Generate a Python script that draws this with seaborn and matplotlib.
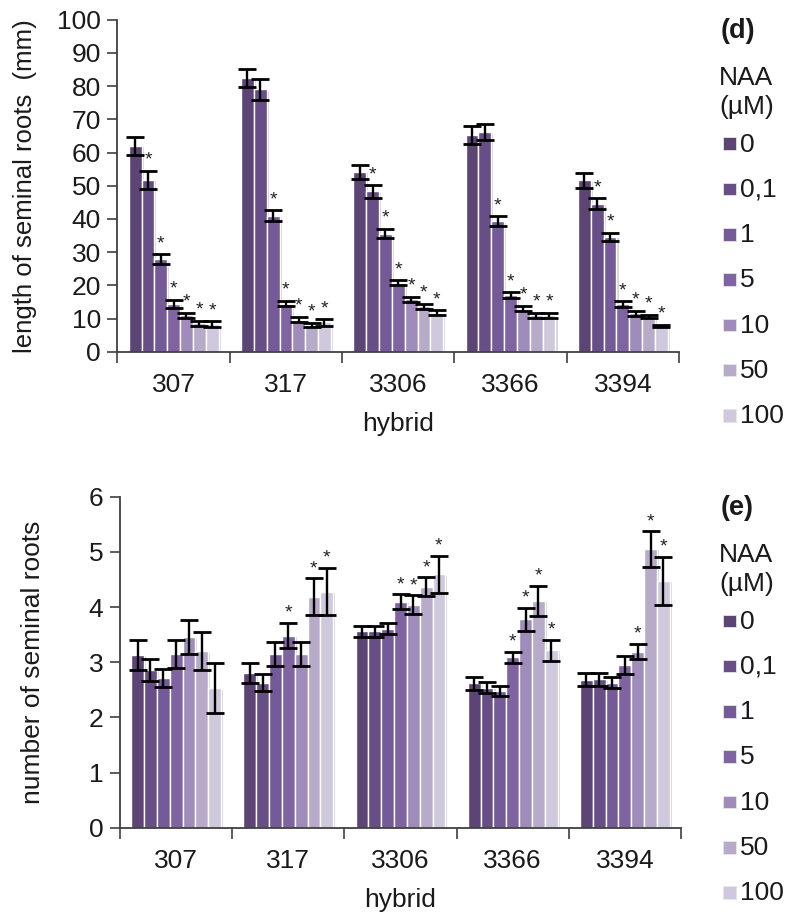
import numpy as np
import pandas as pd
import matplotlib
matplotlib.use("Agg")
import matplotlib.pyplot as plt
import matplotlib.patheffects as pe
from matplotlib.patches import Rectangle
import seaborn as sns

hybrids = ["307", "317", "3306", "3366", "3394"]
naa_levels = ["0", "0,1", "1", "5", "10", "50", "100"]
colors = ["#5c4474", "#684e86", "#745a96", "#8064a2", "#a08cba", "#b8abca", "#d0c8dc"]

# length of seminal roots (mm): rows = hybrids, cols = NAA levels
length_mean = [
    [62.0, 51.8, 27.8, 14.5, 11.0, 8.5, 8.3],
    [82.5, 79.0, 41.0, 14.5, 9.7, 8.0, 8.8],
    [54.2, 48.3, 35.6, 20.8, 15.8, 13.7, 11.8],
    [65.3, 66.3, 39.3, 17.0, 13.0, 11.0, 11.0],
    [51.6, 44.6, 34.6, 14.3, 11.6, 10.7, 7.8],
]
length_err = [
    [2.7, 2.7, 1.5, 1.2, 0.8, 0.9, 0.8],
    [2.6, 3.3, 1.6, 0.8, 0.9, 0.7, 1.0],
    [2.1, 1.9, 1.4, 0.8, 0.8, 0.7, 0.7],
    [2.6, 2.4, 1.5, 0.9, 0.8, 0.8, 0.8],
    [2.2, 1.6, 1.3, 0.9, 0.7, 0.5, 0.3],
]
length_sig = [
    [0, 1, 1, 1, 1, 1, 1],
    [0, 0, 1, 1, 1, 1, 1],
    [0, 1, 1, 1, 1, 1, 1],
    [0, 0, 1, 1, 1, 1, 1],
    [0, 1, 1, 1, 1, 1, 1],
]

# number of seminal roots
number_mean = [
    [3.13, 2.86, 2.71, 3.15, 3.46, 3.20, 2.53],
    [2.81, 2.63, 3.15, 3.48, 3.15, 4.19, 4.28],
    [3.56, 3.56, 3.61, 4.10, 4.04, 4.37, 4.59],
    [2.62, 2.54, 2.47, 3.09, 3.78, 4.11, 3.22],
    [2.68, 2.69, 2.63, 2.95, 3.19, 5.05, 4.47],
]
number_err = [
    [0.28, 0.20, 0.16, 0.25, 0.31, 0.35, 0.45],
    [0.18, 0.15, 0.22, 0.23, 0.21, 0.33, 0.43],
    [0.10, 0.10, 0.10, 0.13, 0.17, 0.17, 0.34],
    [0.12, 0.10, 0.09, 0.10, 0.21, 0.28, 0.19],
    [0.12, 0.12, 0.10, 0.17, 0.14, 0.32, 0.44],
]
number_sig = [
    [0, 0, 0, 0, 0, 0, 0],
    [0, 0, 0, 1, 0, 1, 1],
    [0, 0, 0, 1, 1, 1, 1],
    [0, 0, 0, 1, 1, 1, 1],
    [0, 0, 0, 0, 1, 1, 1],
]

sns.set_theme(style="white")
plt.rcParams["font.family"] = ["Liberation Sans", "DejaVu Sans"]

W, H = 789, 913
FS = 19
TXT = "#1a1a1a"
fig = plt.figure(figsize=(W / 100, H / 100), dpi=100)


def px_axes(left, top, right, bottom):
    return fig.add_axes([left / W, 1 - bottom / H, (right - left) / W, (bottom - top) / H])


ax1 = px_axes(117.5, 19.8, 679.0, 351.7)
ax2 = px_axes(120.0, 496.7, 681.0, 827.7)


def make_df(mean, err, sig):
    rows = []
    for i, h in enumerate(hybrids):
        for j, n in enumerate(naa_levels):
            rows.append(dict(hybrid=h, NAA=n, value=mean[i][j], err=err[i][j], sig=sig[i][j]))
    return pd.DataFrame(rows)


def legend_block(label, dy):
    fx = lambda x: x / W
    fy = lambda y: 1 - (y + dy) / H
    fig.text(fx(721), fy(38), label, fontsize=19.5, fontweight="bold", ha="left",
             va="baseline", color=TXT)
    fig.text(fx(719), fy(85), "NAA", fontsize=FS, ha="left", va="baseline", color=TXT)
    fig.text(fx(719), fy(114), "(µM)", fontsize=FS, ha="left", va="baseline", color=TXT)
    for k, (c, n) in enumerate(zip(colors, naa_levels)):
        base = 151.5 + 45.3 * k
        fig.patches.append(Rectangle((fx(723), fy(base - 1.5)), 12.5 / W, 12.5 / H,
                                     transform=fig.transFigure, facecolor=c,
                                     edgecolor="#e6e6e6", linewidth=0.6))
        fig.text(fx(740), fy(base), n, fontsize=FS, ha="left", va="baseline", color=TXT)


def draw(ax, mean, err, sig, ylim, yticks, ylabel, ylab_fs, star_off, label, dy, ylab_x):
    df = make_df(mean, err, sig)
    sns.barplot(data=df, x="hybrid", y="value", hue="NAA", order=hybrids,
                hue_order=naa_levels, palette=colors, width=0.8, errorbar=None,
                edgecolor="white", linewidth=1.0, legend=False, ax=ax, saturation=1)
    shadow = [pe.SimplePatchShadow(offset=(1.5, -1.0), shadow_rgbFace="#888888", alpha=0.35), pe.Normal()]
    for j, n in enumerate(naa_levels):
        cont = ax.containers[j]
        for i, bar in enumerate(cont):
            bar.set_path_effects(shadow)
            xc = bar.get_x() + bar.get_width() / 2
            m = mean[i][j]
            e = err[i][j]
            ax.errorbar(xc, m, yerr=e, fmt="none", ecolor="black", elinewidth=1.7,
                        capsize=6.5, capthick=2.0, zorder=5)
            if sig[i][j]:
                ax.text(xc, m + e + star_off, "*", ha="center", va="bottom",
                        fontsize=14, color="#222222", zorder=6)
    ax.set_xlim(-0.5, 4.5)
    ax.set_ylim(*ylim)
    ax.set_yticks(yticks)
    ax.set_yticklabels([str(t) for t in yticks], fontsize=FS, color=TXT)
    ax.set_xticks(range(len(hybrids)))
    ax.set_xticklabels(hybrids, fontsize=FS, color=TXT)
    ax.set_xticks(np.arange(-0.5, 5.0, 1.0), minor=True)
    ax.tick_params(axis="x", which="major", length=0, pad=15)
    ax.tick_params(axis="x", which="minor", length=8, width=1.2, color="#404040",
                   direction="out", bottom=True)
    ax.tick_params(axis="y", which="major", length=7, width=1.2, color="#404040",
                   direction="out", left=True, pad=5)
    for s in ["top", "right"]:
        ax.spines[s].set_visible(False)
    for s in ["left", "bottom"]:
        ax.spines[s].set_color("#404040")
        ax.spines[s].set_linewidth(1.3)
    ax.set_xlabel("hybrid", fontsize=FS, color=TXT)
    ax.xaxis.set_label_coords(0.5, -60 / 331.0)
    ax.set_ylabel(ylabel, fontsize=ylab_fs, color=TXT, va="center")
    ax.yaxis.set_label_coords(ylab_x, 0.5)
    legend_block(label, dy)


draw(ax1, length_mean, length_err, length_sig, (0, 100), list(range(0, 101, 10)),
     "length of seminal roots  (mm)", 18.5, 0.6, "(d)", 0, -0.165)
draw(ax2, number_mean, number_err, number_sig, (0, 6), list(range(0, 7)),
     "number of seminal roots", 19, 0.02, "(e)", 477, -0.155)

fig.savefig("out.png", dpi=100)
